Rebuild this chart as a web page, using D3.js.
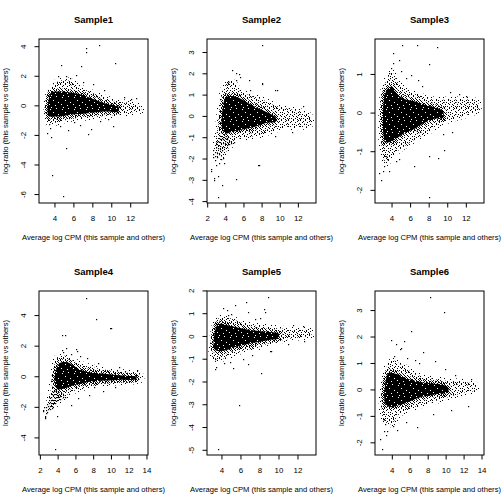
<!DOCTYPE html>
<html>
<head>
<meta charset="utf-8">
<script src="https://cdn.jsdelivr.net/npm/d3@7"></script>
<style>
  body { margin: 0; background: #fff; }
  text { font-family: "Liberation Sans", Arial, sans-serif; fill: #000; }
</style>
</head>
<body>
<div id="chart"></div>
<script>
// MD plots, one per sample: average log CPM vs log-ratio
const samples = ["Sample1", "Sample2", "Sample3", "Sample4", "Sample5", "Sample6"];

// data extent of each panel (R pads 4% on each side)
const xLims = [[2.74, 13.40], [2.37, 13.50], [2.60, 13.47], [2.30, 13.66], [2.85, 13.47], [2.52, 13.77]];
const yLims = [[-6.16, 4.11], [-3.78, 3.35], [-2.17, 1.76], [-4.72, 5.21], [-4.94, 1.73], [-2.23, 3.51]];

const xTicks = [[4, 6, 8, 10, 12], [2, 4, 6, 8, 10, 12], [4, 6, 8, 10, 12],
                [2, 4, 6, 8, 10, 12, 14], [4, 6, 8, 10, 12], [4, 6, 8, 10, 12, 14]];
const yTicks = [[-6, -4, -2, 0, 2, 4], [-4, -3, -2, -1, 0, 1, 2, 3], [-2, -1, 0, 1],
                [-4, -2, 0, 2, 4], [-5, -4, -3, -2, -1, 0, 1, 2], [-2, -1, 0, 1, 2, 3]];

// dense cores (solid black region)
const s1Core = [[3.26,-0.6],[3.3,0.3],[3.6,0.9],[4.3,0.97],[5.7,0.9],[6.8,0.75],[7.5,0.6],[9.25,0.18],[10.7,-0.05],[10.7,-0.38],[9.25,-0.38],[7.5,-0.5],[5.7,-0.6],[4.3,-0.72],[3.4,-0.7]];
const s2Core = [[3.6,-0.6],[3.7,0.5],[4.0,0.9],[5.0,0.95],[6.0,0.75],[7.0,0.5],[8.0,0.3],[9.0,0.1],[9.5,-0.05],[9.5,-0.25],[8.5,-0.3],[7.5,-0.45],[6.5,-0.55],[5.5,-0.65],[4.5,-0.75],[4.0,-0.8]];
const s3Core = [[3.1,-0.6],[3.1,0.3],[3.4,0.6],[4.0,0.68],[4.5,0.5],[5.5,0.35],[6.5,0.3],[7.7,0.2],[9,0.12],[9.5,0.05],[9.5,-0.12],[8.5,-0.15],[7.5,-0.25],[6.5,-0.4],[5.5,-0.5],[4.5,-0.65],[3.8,-0.75],[3.3,-0.75]];
const s4Core = [[3.6,-0.3],[3.8,0.5],[4.2,0.9],[5.0,0.95],[5.8,0.7],[6.5,0.45],[7.5,0.3],[9,0.22],[10.5,0.12],[12,0.05],[12.8,0.0],[12.8,-0.15],[11,-0.2],[9.5,-0.25],[8,-0.3],[6.5,-0.45],[5.5,-0.6],[4.5,-0.8],[3.9,-0.8]];
const s5Core = [[3.2,-0.55],[3.3,0.3],[3.6,0.55],[4.5,0.5],[5.5,0.4],[6.5,0.32],[7.7,0.25],[9.4,0.18],[10,0.12],[10,-0.08],[9,-0.15],[7.7,-0.25],[6.5,-0.35],[5.5,-0.45],[4.5,-0.6],[3.7,-0.65]];
const s6Core = [[3.2,-0.5],[3.3,0.4],[3.6,0.65],[4.5,0.6],[5.5,0.45],[6.5,0.35],[8,0.25],[9.6,0.2],[10.2,0.1],[10.2,-0.1],[9,-0.15],[7.5,-0.25],[6.5,-0.35],[5.5,-0.5],[4.5,-0.6],[3.8,-0.65]];

// sparser halo around each core (includes the low-count fans of samples 2 and 4)
const s1Halo = [[3.2,-1.0],[3.3,0.8],[3.8,1.4],[4.5,1.7],[5.5,1.7],[6.5,1.3],[7.5,1.0],[9,0.6],[10.5,0.3],[12,0.2],[12.9,0.0],[13.1,-0.3],[12,-0.45],[10.5,-0.6],[9,-0.7],[7,-0.8],[5.5,-0.9],[4.3,-1.1],[3.5,-1.2]];
const s2Halo = [[2.9,-1.2],[3.2,-0.3],[3.5,0.9],[4.0,1.5],[4.8,1.6],[5.5,1.2],[6.5,1.0],[8,0.8],[9.5,0.5],[11,0.35],[12.5,0.2],[13.3,0],[13.3,-0.4],[12,-0.5],[10.5,-0.5],[9,-0.7],[7.5,-0.9],[6,-1.0],[5,-1.1],[4.3,-1.5],[3.8,-1.8],[3.3,-1.9]];
const s3Halo = [[3.0,-1.1],[3.0,0.5],[3.4,0.85],[4.0,1.05],[4.6,0.8],[5.5,0.6],[7,0.45],[8.5,0.35],[10,0.35],[11.5,0.35],[13.2,0.3],[13.3,0.1],[12,-0.05],[10.5,-0.15],[9,-0.3],[7.5,-0.55],[6,-0.75],[4.8,-0.95],[4,-1.1],[3.4,-1.3]];
const s4Halo = [[3.0,-1.5],[3.3,-0.5],[3.5,0.4],[3.8,1.2],[4.5,1.4],[5.5,1.1],[6.5,0.85],[8,0.6],[10,0.4],[12,0.25],[13.3,0.1],[13.3,-0.2],[11,-0.35],[9,-0.45],[7,-0.7],[5.5,-1.0],[4.5,-1.4],[3.9,-1.7],[3.3,-2.0]];
const s5Halo = [[3.0,-0.9],[3.1,0.2],[3.5,0.75],[4.2,0.85],[5.2,0.75],[6.5,0.55],[8,0.45],[10,0.35],[12,0.3],[13.3,0.25],[13.4,0.05],[12,-0.05],[10.5,-0.15],[9,-0.3],[7.5,-0.5],[6,-0.65],[4.8,-0.85],[3.8,-1.0]];
const s6Halo = [[3.0,-1.1],[3.1,0.5],[3.5,0.95],[4.2,1.1],[5.2,0.9],[6.5,0.6],[8,0.45],[10,0.35],[12,0.3],[13.2,0.2],[13.3,0.0],[12,-0.1],[10.5,-0.25],[9,-0.4],[7.5,-0.55],[6,-0.7],[4.8,-0.9],[3.8,-1.3]];

// individual genes outside the cloud (incl. low-count streaks)
const s1Points = [[8.62,4.13],[7.28,3.93],[7.31,3.62],[4.67,2.74],[6.78,2.67],[10.37,2.9],[3.72,-4.65],[4.88,-6.13],[5.13,-2.86],[10.1,-1.35],[7.45,-1.93],[3.58,-2.11],[3.12,-1.84],[3.47,-1.5],[4.53,-1.35],[5.4,-1.62],[6.64,-1.28],[7.77,-1.57],[12.6,0.52],[5.2,2.0],[5.6,1.9],[6.2,2.1],[4.3,2.0],[7.0,1.6],[8.0,1.5],[9.2,1.1],[11.3,0.6],[12.0,0.45],[3.4,-1.2],[6.0,-1.1],[8.8,-1.0],[9.6,-0.9]];
const s2Points = [[2.55,-1.9],[2.6,-1.75],[2.63,-1.6],[2.8,-2.05],[2.83,-1.85],[2.86,-1.65],[2.9,-1.45],[2.93,-1.3],[2.97,-1.15],[3.05,-1.9],[3.08,-1.7],[3.12,-1.5],[3.15,-1.32],[3.19,-1.15],[3.22,-1.0],[3.26,-0.85],[3.3,-1.75],[3.34,-1.55],[3.37,-1.38],[3.41,-1.2],[3.45,-1.05],[3.48,-0.9],[3.52,-0.75],[3.58,-1.6],[3.62,-1.42],[3.66,-1.25],[3.7,-1.08],[3.73,-0.95],[3.77,-0.82],[3.85,-1.45],[3.88,-1.3],[3.92,-1.15],[3.96,-1.0],[4.0,-0.9],[4.1,-1.35],[4.14,-1.2],[4.18,-1.05],[4.22,-0.95],[4.35,-1.3],[4.4,-1.15],[4.6,-1.25],[4.9,-1.2],[2.37,-2.47],[2.37,-2.58],[2.66,-2.9],[2.68,-3.0],[3.14,-2.8],[3.58,-3.2],[3.1,-3.78],[5.16,-2.92],[7.6,-2.28],[7.7,-2.28],[3.2,-2.2],[3.5,-2.0],[2.9,-2.3],[3.76,-2.19],[3.66,-1.95],[7.96,3.36],[4.65,2.19],[5.09,1.69],[5.49,1.98],[7.96,1.53],[4.28,1.67],[4.1,1.6],[6.67,1.25],[9.43,1.25],[12.55,0.47],[11.34,-0.75],[9.43,-0.94],[5.16,2.03],[5.6,1.87],[6.52,1.72],[7.99,1.56],[9.65,1.25]];
const s3Points = [[5.08,1.77],[6.66,1.77],[8.84,1.71],[4.14,1.55],[4.79,1.38],[3.89,1.16],[3.71,1.03],[6.05,0.99],[8.0,1.28],[6.77,0.86],[7.95,-2.16],[2.82,-1.72],[2.63,-1.55],[3.0,-1.51],[3.71,-1.51],[3.17,-1.38],[6.4,-1.38],[8.0,-1.12],[8.92,-1.16],[9.63,-0.95],[4.79,-1.2],[4.43,-1.25],[5.0,1.1],[7.2,0.7],[10.2,0.55],[11.2,0.5],[12,0.45],[9.5,-0.55],[10.5,-0.5],[3.3,-1.1],[3.5,-1.2],[4.1,1.3],[5.5,0.9]];
const s4Points = [[2.35,-2.2],[2.4,-2.0],[2.55,-2.55],[2.58,-2.35],[2.62,-2.15],[2.66,-1.95],[2.7,-1.75],[2.8,-2.3],[2.84,-2.1],[2.88,-1.9],[2.92,-1.7],[2.96,-1.5],[3.0,-1.32],[3.08,-2.1],[3.12,-1.9],[3.16,-1.7],[3.2,-1.5],[3.24,-1.3],[3.28,-1.12],[3.32,-0.95],[3.36,-1.9],[3.4,-1.7],[3.44,-1.5],[3.48,-1.3],[3.52,-1.12],[3.56,-0.95],[3.6,-0.8],[3.65,-1.7],[3.69,-1.5],[3.73,-1.3],[3.77,-1.12],[3.81,-0.95],[3.92,-1.55],[3.96,-1.35],[4.0,-1.17],[4.04,-1.0],[4.2,-1.45],[4.24,-1.25],[4.28,-1.08],[4.5,-1.35],[4.55,-1.2],[4.8,-1.3],[2.34,-2.26],[2.53,-2.7],[2.56,-2.65],[3.28,-2.04],[3.84,-2.55],[3.65,-4.72],[7.14,5.15],[8.26,3.76],[9.84,3.2],[9.95,3.2],[4.48,2.72],[4.81,2.72],[4.4,1.76],[4.9,1.91],[6.01,1.83],[6.1,1.7],[5.41,-1.85],[10.4,-0.67],[6.46,1.33],[5.5,1.5],[4.6,1.6],[7.2,1.2],[8.5,0.9],[10.9,0.65],[12.9,0.45],[7.5,-1.2],[6.2,-1.4],[9,-0.9],[8,-0.7]];
const s5Points = [[8.88,1.72],[6.56,1.5],[5.4,1.39],[8.42,1.21],[8.53,1.07],[4.14,1.27],[4.49,1.17],[6.77,1.07],[3.61,-4.94],[5.82,-3.01],[8.1,-1.61],[5.19,-1.38],[6.74,-1.21],[3.26,-1.42],[3.37,-1.32],[4.25,-1.17],[9.05,-0.66],[9.2,-0.62],[10.98,-0.34],[5.0,1.0],[7.5,0.75],[4.6,0.95],[8.0,0.8],[11.5,0.5],[12.5,0.45],[3.3,-1.0],[4.8,-1.1],[6.2,-1.0],[7.2,-0.8],[12.6,-0.2]];
const s6Points = [[8.17,3.5],[9.76,2.96],[6.05,2.22],[5.34,1.86],[3.88,1.88],[4.37,1.73],[4.82,1.54],[4.93,1.6],[7.46,1.43],[6.53,1.14],[2.88,-2.23],[2.59,-1.85],[3.07,-1.56],[3.44,-1.56],[6.78,-1.4],[4.11,-1.37],[4.55,-1.5],[12.4,-0.62],[8.8,1.1],[9.9,0.8],[5.6,1.2],[4.2,1.3],[7.0,1.0],[11.0,0.55],[12.8,0.4],[8.5,-0.9],[10.5,-0.75],[5.5,-1.2],[3.2,-1.3],[3.0,-1.1],[3.3,-1.7]];

const cores = [s1Core, s2Core, s3Core, s4Core, s5Core, s6Core];
const halos = [s1Halo, s2Halo, s3Halo, s4Halo, s5Halo, s6Halo];
const points = [s1Points, s2Points, s3Points, s4Points, s5Points, s6Points];

const width = 504, height = 504;
const cellW = 168, cellH = 252;
const margin = { top: 39, right: 20, bottom: 49, left: 39 };

const svg = d3.select("#chart").append("svg")
  .attr("width", width)
  .attr("height", height);

svg.append("rect").attr("width", width).attr("height", height).attr("fill", "#fff");

// texture fills standing in for thousands of overlapping dots
const defs = svg.append("defs");
function texture(id, cells, background) {
  const p = defs.append("pattern").attr("id", id)
    .attr("patternUnits", "userSpaceOnUse").attr("width", 12).attr("height", 12);
  if (background) p.append("rect").attr("width", 12).attr("height", 12).attr("fill", background);
  cells.forEach(([a, b]) =>
    p.append("rect").attr("x", a).attr("y", b).attr("width", 1).attr("height", 1)
      .attr("fill", background ? "#fff" : "#000"));
}
const faintCells = [[1,0],[7,1],[4,3],[10,4],[0,6],[6,7],[3,9],[9,10],[11,1],[5,11],[8,5]];
const sparseCells = [[0,0],[5,0],[9,1],[2,2],[7,2],[11,3],[4,4],[0,4],[8,5],[2,6],[6,6],[10,7],[1,8],[5,8],
  [9,9],[3,10],[7,10],[11,10],[0,11],[5,11],[10,0],[3,1],[6,4],[11,6],[4,7],[8,8],[1,10],[9,11]];
const midCells = sparseCells.concat([[1,1],[6,1],[10,2],[3,3],[8,3],[1,5],[5,5],[10,5],[3,7],[7,7],[0,9],
  [4,9],[6,9],[11,8],[2,11],[8,11],[4,2],[9,4],[0,7],[7,0],[11,11],[2,4],[6,10],[10,9],[5,3],[8,6],[3,8],[9,10]]);
const holeCells = [[2,1],[8,0],[5,4],[10,6],[1,8],[7,9],[3,11]];
texture("faint", faintCells);
texture("sparse", sparseCells);
texture("mid", midCells);
texture("dense", holeCells, "#000");

samples.forEach((name, i) => {
  const col = i % 3, row = Math.floor(i / 3);
  const g = svg.append("g").attr("transform", `translate(${col * cellW}, ${row * cellH})`);
  const left = margin.left, right = cellW - margin.right;
  const top = margin.top, bottom = cellH - margin.bottom;

  const [x0, x1] = xLims[i], [y0, y1] = yLims[i];
  const px = 0.04 * (x1 - x0), py = 0.04 * (y1 - y0);
  const x = d3.scaleLinear().domain([x0 - px, x1 + px]).range([left, right]);
  const y = d3.scaleLinear().domain([y0 - py, y1 + py]).range([bottom, top]);

  g.append("clipPath").attr("id", `clip${i}`)
    .append("rect").attr("x", left).attr("y", top)
    .attr("width", right - left).attr("height", bottom - top);

  const plot = g.append("g").attr("clip-path", `url(#clip${i})`);
  const line = d3.line().x(d => x(d[0])).y(d => y(d[1])).curve(d3.curveCatmullRomClosed);

  plot.append("path").attr("d", line(halos[i]))
    .attr("fill", "url(#sparse)").attr("stroke", "url(#faint)").attr("stroke-width", 6);
  plot.append("path").attr("d", line(cores[i]))
    .attr("fill", "url(#dense)").attr("stroke", "url(#mid)").attr("stroke-width", 6)
    .attr("paint-order", "stroke");

  plot.selectAll(".dot")
    .data(points[i])
    .enter()
    .append("rect")
    .attr("class", "dot")
    .attr("x", d => Math.round(x(d[0])))
    .attr("y", d => Math.round(y(d[1])))
    .attr("width", 1.2)
    .attr("height", 1.2)
    .attr("fill", "#000");

  // box
  g.append("rect")
    .attr("x", left).attr("y", top)
    .attr("width", right - left).attr("height", bottom - top)
    .attr("fill", "none").attr("stroke", "#000").attr("stroke-width", 1);

  // x axis
  g.selectAll(".xt").data(xTicks[i]).enter().append("line")
    .attr("x1", d => x(d)).attr("x2", d => x(d))
    .attr("y1", bottom).attr("y2", bottom + 4.5)
    .attr("stroke", "#000");
  g.selectAll(".xl").data(xTicks[i]).enter().append("text")
    .attr("x", d => x(d)).attr("y", 221)
    .attr("text-anchor", "middle").attr("font-size", 7.9)
    .text(d => d);

  // y axis
  g.selectAll(".yt").data(yTicks[i]).enter().append("line")
    .attr("x1", left).attr("x2", left - 4.5)
    .attr("y1", d => y(d)).attr("y2", d => y(d))
    .attr("stroke", "#000");
  g.selectAll(".yl").data(yTicks[i]).enter().append("text")
    .attr("transform", d => `translate(26, ${y(d)}) rotate(-90)`)
    .attr("text-anchor", "middle").attr("font-size", 7.9)
    .text(d => d);

  g.append("text")
    .attr("x", (left + right) / 2).attr("y", 23)
    .attr("text-anchor", "middle").attr("font-size", 9.5).attr("font-weight", "bold")
    .text(name);

  g.append("text")
    .attr("x", (left + right) / 2).attr("y", 240)
    .attr("text-anchor", "middle").attr("font-size", 7.6)
    .text("Average log CPM (this sample and others)");

  g.append("text")
    .attr("transform", `translate(8, ${(top + bottom) / 2}) rotate(-90)`)
    .attr("text-anchor", "middle").attr("font-size", 7.6)
    .text("log-ratio (this sample vs others)");
});
</script>
</body>
</html>
